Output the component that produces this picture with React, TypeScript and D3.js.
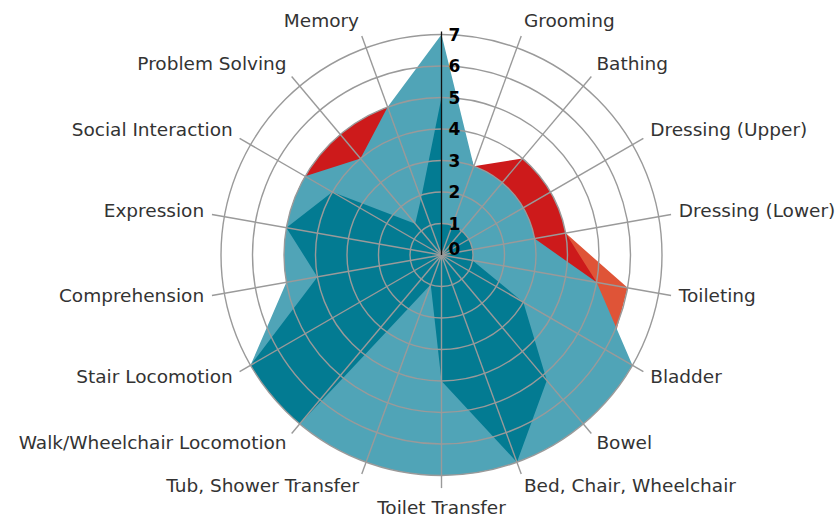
import React from "react";
import * as d3 from "d3";

// ---- data ----
const CATEGORIES = [
  "Eating",
  "Grooming",
  "Bathing",
  "Dressing (Upper)",
  "Dressing (Lower)",
  "Toileting",
  "Bladder",
  "Bowel",
  "Bed, Chair, Wheelchair",
  "Toilet Transfer",
  "Tub, Shower Transfer",
  "Walk/Wheelchair Locomotion",
  "Stair Locomotion",
  "Comprehension",
  "Expression",
  "Social Interaction",
  "Problem Solving",
  "Memory",
];
// the first axis carries the tick numbers instead of a name
const SHOW_NAME = CATEGORIES.map((_, i) => i !== 0);
const TICKS = [0, 1, 2, 3, 4, 5, 6, 7];

// 18 values in category order, then the value the outline returns to on the first axis
const ORANGE_VALUES = [5, 3, 3, 3, 4, 6, 6.2, 6, 6, 6, 6, 6, 6, 4, 4, 4, 4, 4, 5];
const RED_VALUES = [6, 3, 4, 4, 4, 5, 6, 6, 6, 6, 6, 6, 6, 4, 5, 5, 5, 5, 6];
const LIGHT_VALUES = [7, 3, 3, 3, 3, 5, 7, 7, 7, 7, 7, 7, 7, 5, 5, 5, 4, 5, 7];
const DARK_VALUES = [1, 1, 1, 1, 1, 1, 3, 5.2, 7, 4, 1, 7, 7, 4, 5, 4, 1.3, 1.9, 5];

const SERIES = [
  { name: "orange", values: ORANGE_VALUES, color: "#df5437" },
  { name: "red", values: RED_VALUES, color: "#cd1a1b" },
  { name: "light", values: LIGHT_VALUES, color: "#50a4b7" },
  { name: "dark", values: DARK_VALUES, color: "#037b92" },
];

// ---- layout ----
const W = 839;
const H = 521;
const CX = 441.5;
const CY = 255;
const R_MAX = 220.5;
const SPOKE_END = 7.4;
const LABEL_RX = 241;
const LABEL_RY = 247;

export default function App() {
  const n = CATEGORIES.length;
  const r = d3.scaleLinear().domain([0, 7]).range([0, R_MAX]);
  const ang = d3.scaleLinear().domain([0, n]).range([0, 2 * Math.PI]);

  const px = (i: number, v: number) => r(v) * Math.sin(ang(i));
  const py = (i: number, v: number) => -r(v) * Math.cos(ang(i));

  // straight edges between different values, arcs along a ring between equal values
  const buildPath = (vals: number[]) => {
    const p = d3.path();
    p.moveTo(px(0, vals[0]), py(0, vals[0]));
    for (let i = 1; i < vals.length; i++) {
      const v0 = vals[i - 1];
      const v1 = vals[i];
      if (v0 === v1 && v1 > 0) {
        p.arc(0, 0, r(v1), ang(i - 1) - Math.PI / 2, ang(i) - Math.PI / 2, false);
      } else {
        p.lineTo(px(i, v1), py(i, v1));
      }
    }
    p.closePath();
    return p.toString();
  };

  const font = "'DejaVu Sans', Verdana, sans-serif";

  return (
    <svg
      width={W}
      height={H}
      style={{ position: "absolute", left: 0, top: 0, background: "#fff" }}
    >
      <g transform={`translate(${CX},${CY})`}>
        {SERIES.map((s) => (
          <path key={s.name} d={buildPath(s.values)} fill={s.color} stroke="none" />
        ))}
        {TICKS.filter((t) => t > 0).map((t) => (
          <circle
            key={t}
            r={r(t)}
            fill="none"
            stroke="#9a9a9a"
            strokeWidth={1.4}
          />
        ))}
        {CATEGORIES.map((c, i) => {
          if (i === 0) return null;
          const a = ang(i);
          return (
            <line
              key={c}
              x1={0}
              y1={0}
              x2={r(SPOKE_END) * Math.sin(a)}
              y2={-r(SPOKE_END) * Math.cos(a)}
              stroke="#9a9a9a"
              strokeWidth={1.4}
            />
          );
        })}
        <line x1={0} y1={0} x2={0} y2={-r(7) - 3} stroke="#111" strokeWidth={1.3} />
        {TICKS.map((t) => (
          <text
            key={t}
            x={7}
            y={-r(Math.max(t, 0.2))}
            dominantBaseline="central"
            fontFamily={font}
            fontWeight="bold"
            fontSize={17}
            fill="#000"
          >
            {t}
          </text>
        ))}
        {CATEGORIES.map((c, i) => {
          if (!SHOW_NAME[i]) return null;
          const a = ang(i);
          const sx = Math.sin(a);
          const cy = -Math.cos(a);
          const side = Math.abs(sx) > 0.01;
          const anchor = sx > 0.01 ? "start" : sx < -0.01 ? "end" : "middle";
          return (
            <text
              key={c}
              x={LABEL_RX * sx}
              y={LABEL_RY * cy - 2}
              textAnchor={anchor}
              dominantBaseline={side ? "central" : cy > 0 ? "hanging" : "auto"}
              fontFamily={font}
              fontSize={18.5}
              fill="#333"
            >
              {c}
            </text>
          );
        })}
      </g>
    </svg>
  );
}
